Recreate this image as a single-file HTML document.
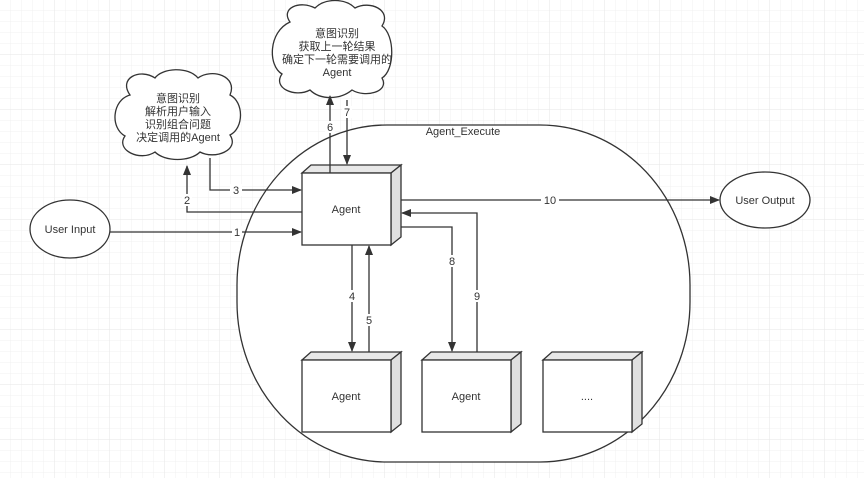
<!DOCTYPE html>
<html><head><meta charset="utf-8"><style>
html,body{margin:0;padding:0;background:#fff}
svg{display:block}
text{font-family:"Liberation Sans","Noto Sans CJK SC",sans-serif;font-size:11px;fill:#333}
</style></head><body>
<svg width="864" height="478" viewBox="0 0 864 478" xmlns="http://www.w3.org/2000/svg">
<defs>
<pattern id="g" width="11" height="11" patternUnits="userSpaceOnUse"><path d="M11 0V11H0" fill="none" stroke="#f0f0f0" stroke-width="1"/></pattern>
<pattern id="G" width="55" height="55" patternUnits="userSpaceOnUse"><rect width="55" height="55" fill="url(#g)"/><path d="M55 0V55H0" fill="none" stroke="#e6e6e6" stroke-width="1"/></pattern>
<marker id="a" markerWidth="10" markerHeight="8" refX="9" refY="4" orient="auto" markerUnits="userSpaceOnUse"><path d="M0,0L10,4L0,8z" fill="#333"/></marker>
</defs>
<rect width="864" height="478" fill="url(#G)"/>
<g stroke="#333" stroke-width="1.3" fill="none">
<rect x="237" y="125" width="453" height="337" rx="150" ry="160" fill="#fff"/>
<ellipse cx="70" cy="229" rx="40" ry="29" fill="#fff"/>
<ellipse cx="765" cy="200" rx="45" ry="28" fill="#fff"/>
<!-- clouds -->
<path d="M130,95 C118,78 140,68 155,78 C162,68 188,66 198,78 C212,68 238,76 230,95 C244,102 244,128 230,135 C240,150 215,160 200,152 C190,162 165,162 155,152 C140,162 115,150 125,136 C110,128 112,100 130,95z" fill="#fff"/>
<path d="M290,22 C280,8 300,0 315,8 C325,-2 345,-2 355,8 C370,0 392,10 382,26 C395,35 395,70 382,78 C390,92 365,98 352,90 C340,100 320,100 310,90 C295,98 272,88 282,74 C268,66 268,32 290,22z" fill="#fff"/>
<!-- boxes -->
<g fill="#fff">
<path d="M302,173 L311,165 L401,165 L391,173z" fill="#e8e8e8"/><path d="M391,173 L401,165 L401,237 L391,245z" fill="#e0e0e0"/><rect x="302" y="173" width="89" height="72"/>
<path d="M302,360 L311,352 L401,352 L391,360z" fill="#e8e8e8"/><path d="M391,360 L401,352 L401,424 L391,432z" fill="#e0e0e0"/><rect x="302" y="360" width="89" height="72"/>
<path d="M422,360 L431,352 L521,352 L511,360z" fill="#e8e8e8"/><path d="M511,360 L521,352 L521,424 L511,432z" fill="#e0e0e0"/><rect x="422" y="360" width="89" height="72"/>
<path d="M543,360 L552,352 L642,352 L632,360z" fill="#e8e8e8"/><path d="M632,360 L642,352 L642,424 L632,432z" fill="#e0e0e0"/><rect x="543" y="360" width="89" height="72"/>
</g>
<!-- connectors -->
<path d="M110,232H301" marker-end="url(#a)"/>
<path d="M302,212H187V166" marker-end="url(#a)"/>
<path d="M210,158V190H301" marker-end="url(#a)"/>
<path d="M330,173V96" marker-end="url(#a)"/>
<path d="M347,100V164" marker-end="url(#a)"/>
<path d="M401,200H719" marker-end="url(#a)"/>
<path d="M401,227H452V351" marker-end="url(#a)"/>
<path d="M477,352V213H402" marker-end="url(#a)"/>
<path d="M352,245V351" marker-end="url(#a)"/>
<path d="M369,352V246" marker-end="url(#a)"/>
</g>
<g fill="#fff">
<rect x="232" y="226" width="10" height="12"/><rect x="182" y="194" width="10" height="12"/><rect x="230" y="184" width="12" height="12"/>
<rect x="325" y="121" width="10" height="12"/><rect x="342" y="106" width="10" height="12"/><rect x="541" y="194" width="18" height="12"/>
<rect x="447" y="255" width="10" height="12"/><rect x="472" y="290" width="10" height="12"/><rect x="347" y="290" width="10" height="12"/><rect x="364" y="314" width="10" height="12"/>
</g>
<g text-anchor="middle">
<text x="237" y="236">1</text><text x="187" y="204">2</text><text x="236" y="194">3</text>
<text x="330" y="131">6</text><text x="347" y="116">7</text><text x="550" y="204">10</text>
<text x="452" y="265">8</text><text x="477" y="300">9</text><text x="352" y="300">4</text><text x="369" y="324">5</text>
<text x="463" y="135">Agent_Execute</text>
<text x="70" y="233">User Input</text><text x="765" y="204">User Output</text>
<text x="346" y="213">Agent</text><text x="346" y="400">Agent</text><text x="466" y="400">Agent</text><text x="587" y="400">....</text>
<text x="178" y="102">意图识别</text><text x="178" y="115">解析用户输入</text><text x="178" y="128">识别组合问题</text><text x="178" y="141">决定调用的Agent</text>
<text x="337" y="37">意图识别</text><text x="337" y="50">获取上一轮结果</text><text x="337" y="63">确定下一轮需要调用的</text><text x="337" y="76">Agent</text>
</g>
</svg>
</body></html>
